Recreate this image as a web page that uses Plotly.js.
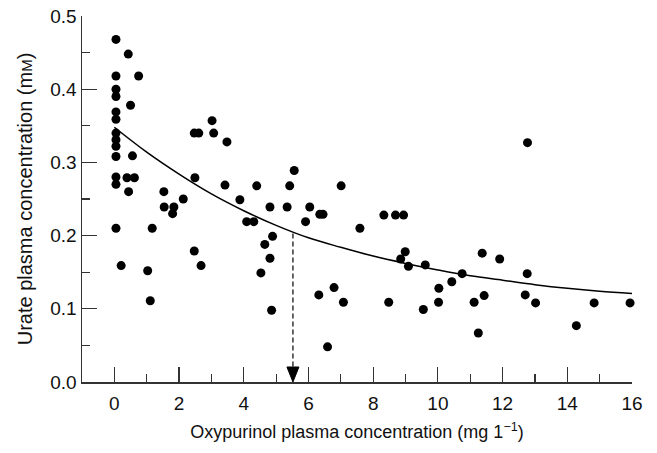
<!DOCTYPE html>
<html><head><meta charset="utf-8">
<script src="https://cdn.plot.ly/plotly-3.0.1.min.js"></script>
<style>html,body{margin:0;padding:0;background:#fff}#chart{width:657px;height:453px}</style>
</head><body><div id="chart"></div>
<script>
// observed points: oxypurinol (mg/l) vs urate (mM)
const oxyX = [0.05,0.05,0.05,0.05,0.05,0.05,0.05,0.05,0.05,0.05,0.05,0.05,0.05,
  0.43,0.75,0.50,0.56,0.39,0.62,0.44,0.21,1.03,1.11,1.17,1.53,1.54,1.84,1.80,2.13,
  2.47,2.61,2.49,2.47,2.68,3.02,3.07,3.48,3.42,3.88,4.09,4.31,4.40,4.81,4.65,4.89,
  4.81,4.53,4.86,5.34,5.42,5.56,5.91,6.04,6.35,6.45,6.32,6.59,6.79,7.01,7.08,7.59,
  8.33,8.69,8.94,8.48,8.85,8.99,9.09,9.55,9.61,10.02,10.03,10.43,10.75,11.12,11.25,
  11.37,11.43,11.91,12.70,12.76,12.77,13.02,14.28,14.83,15.94];
const urateY = [0.468,0.418,0.400,0.390,0.369,0.359,0.340,0.331,0.322,0.308,0.280,0.270,0.210,
  0.448,0.418,0.378,0.309,0.279,0.279,0.260,0.159,0.152,0.111,0.210,0.260,0.239,0.239,0.230,0.250,
  0.340,0.340,0.279,0.179,0.159,0.357,0.340,0.328,0.269,0.249,0.219,0.219,0.268,0.239,0.188,0.199,
  0.169,0.149,0.098,0.239,0.268,0.289,0.219,0.239,0.229,0.229,0.119,0.048,0.129,0.268,0.109,0.210,
  0.228,0.228,0.228,0.109,0.168,0.178,0.158,0.099,0.160,0.109,0.128,0.137,0.148,0.109,0.067,
  0.176,0.118,0.168,0.119,0.148,0.327,0.108,0.077,0.108,0.108];
// fitted curve
const fitX = [0,1,2,3,4,5,6,7,8,9,10,11,12,13,14,15,16];
const fitY = [0.348,0.314,0.284,0.257,0.234,0.214,0.197,0.184,0.172,0.162,0.153,0.145,0.139,0.133,0.128,0.124,0.121];
// marked concentration (arrow)
const markX = 5.52;
const markY = 0.203;

const xTickVals = [0,2,4,6,8,10,12,14,16];
const yTickVals = [0,0.1,0.2,0.3,0.4,0.5];

const font = "Liberation Sans, Arial, sans-serif";
const ink = "#111";

const traces = [
  {x: fitX, y: fitY, mode: "lines", line: {color: "#000", width: 1.5, shape: "spline"}, hoverinfo: "skip"},
  {x: [markX, markX], y: [markY, 0.018], mode: "lines", line: {color: "#000", width: 1.2, dash: "5px,3px"}, hoverinfo: "skip"},
  {x: oxyX, y: urateY, mode: "markers", marker: {color: "#000", size: 9}, cliponaxis: false}
];

const layout = {
  width: 657, height: 453,
  margin: {l: 82, r: 25, t: 16, b: 71},
  paper_bgcolor: "#fff", plot_bgcolor: "#fff",
  showlegend: false,
  font: {family: font, color: ink, size: 18},
  xaxis: {
    range: [-1, 16], tickvals: xTickVals, ticktext: xTickVals.map(String),
    ticks: "inside", ticklen: 15, tickwidth: 1.2, tickcolor: "#333",
    minor: {dtick: 1, tick0: 0, ticks: "inside", ticklen: 8, tickwidth: 1.2, tickcolor: "#333"},
    showline: true, linecolor: "#333", linewidth: 1.5,
    showgrid: false, zeroline: false,
    ticklabelstandoff: 4,
    tickfont: {size: 19, family: font, color: ink},
    title: {text: "Oxypurinol plasma concentration (mg 1<sup>\u22121</sup>)", font: {size: 18, family: font, color: ink}, standoff: 12}
  },
  yaxis: {
    range: [0, 0.5], tickvals: yTickVals, tickformat: ".1f",
    ticks: "inside", ticklen: 15, tickwidth: 1.2, tickcolor: "#333",
    minor: {dtick: 0.05, tick0: 0, ticks: "inside", ticklen: 8, tickwidth: 1.2, tickcolor: "#333"},
    showline: true, linecolor: "#333", linewidth: 1.5,
    showgrid: false, zeroline: false,
    tickfont: {size: 19, family: font, color: ink},
    title: {text: "Urate plasma concentration (m<span style='font-size:15px'>M</span>)", font: {size: 20, family: font, color: ink}, standoff: 12}
  },
  shapes: [{
    type: "path", xref: "x", yref: "y",
    path: "M " + (markX - 0.185) + " 0.0205 L " + (markX + 0.185) + " 0.0205 L " + markX + " 0 Z",
    fillcolor: "#000", line: {color: "#000", width: 1}
  }]
};

Plotly.newPlot("chart", traces, layout, {displayModeBar: false, staticPlot: true});
</script></body></html>
